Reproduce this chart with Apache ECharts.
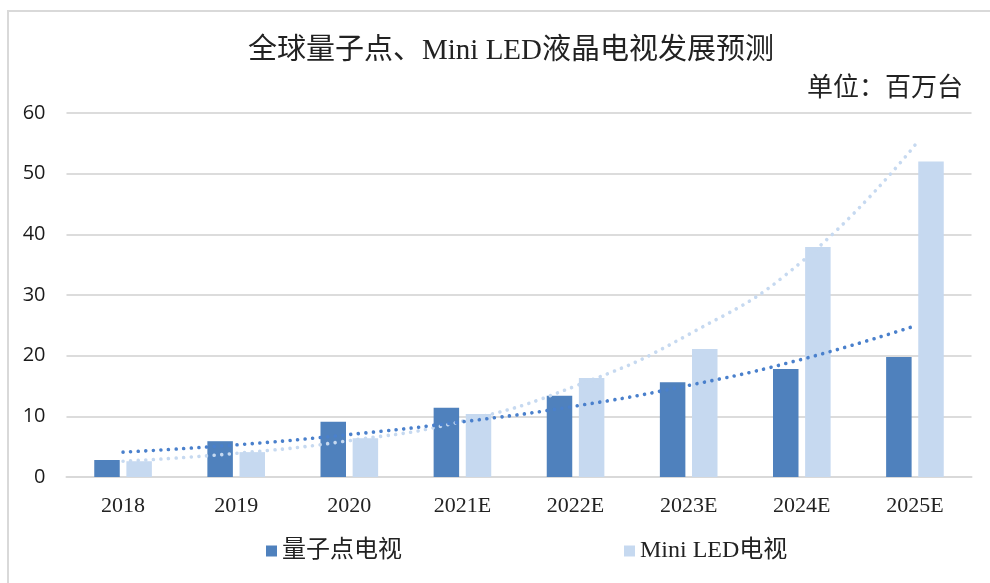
<!DOCTYPE html>
<html>
<head>
<meta charset="utf-8">
<script src="https://cdn.jsdelivr.net/npm/echarts@6/dist/echarts.min.js"></script>
<style>
  html, body { margin: 0; padding: 0; background: #fff; }
  #chart { width: 990px; height: 583px; }
</style>
</head>
<body>
<div id="chart"></div>
<script>
const years = ['2018', '2019', '2020', '2021E', '2022E', '2023E', '2024E', '2025E'];
const qdTv = [2.8, 5.9, 9.1, 11.4, 13.4, 15.6, 17.8, 19.8];
const miniLedTv = [2.6, 4.1, 6.4, 10.4, 16.3, 21.1, 37.9, 52.0];
// trend lines
const qdTrend = [4.1, 5.3, 7.0, 9.1, 11.7, 15.1, 19.4, 24.9];
const miniTrend = [2.6, 3.9, 6.0, 9.2, 15.0, 23.5, 35.5, 54.7];
const yTicks = [0, 10, 20, 30, 40, 50, 60];

const serif = "'Liberation Serif', 'Noto Sans CJK SC', serif";
const dark = '#4f81bd';
const light = '#c6d9f0';

const chart = echarts.init(document.getElementById('chart'));

const dotted = (color) => ({
  color: color,
  width: 3.6,
  type: [0.01, 7.6],
  cap: 'round'
});

chart.setOption({
  backgroundColor: '#fff',
  animation: false,
  graphic: [{
    type: 'rect',
    shape: { x: 8, y: 11, width: 1000, height: 600 },
    style: { fill: 'none', stroke: '#d9d9d9', lineWidth: 2 }
  }],
  title: [{
    text: '全球量子点、Mini LED液晶电视发展预测',
    left: 243,
    top: 32,
    textStyle: { fontFamily: serif, fontSize: 29, fontWeight: 'normal', color: '#222' }
  }, {
    text: '单位：百万台',
    right: 22,
    top: 71,
    textStyle: { fontFamily: serif, fontSize: 26, fontWeight: 'normal', color: '#222' }
  }],
  legend: {
    data: ['量子点电视', 'Mini LED电视'],
    left: 261,
    top: 534,
    icon: 'rect',
    itemWidth: 11,
    itemHeight: 11,
    itemGap: 222,
    textStyle: { fontFamily: serif, fontSize: 24, color: '#222' }
  },
  grid: { left: 66.5, right: 18.5, top: 113, bottom: 106 },
  xAxis: {
    type: 'category',
    data: years,
    axisLine: { lineStyle: { color: '#d9d9d9', width: 2 } },
    axisTick: { show: false },
    axisLabel: { fontFamily: serif, fontSize: 22, color: '#222', margin: 18 }
  },
  yAxis: {
    type: 'value',
    min: yTicks[0],
    max: yTicks[yTicks.length - 1],
    interval: 10,
    axisLine: { show: false },
    axisTick: { show: false },
    splitLine: { lineStyle: { color: '#dcdcdc', width: 2 } },
    axisLabel: { fontFamily: "'Open Sans', sans-serif", fontSize: 20, color: '#1a1a1a', margin: 21 }
  },
  series: [{
    name: '量子点电视',
    type: 'bar',
    data: qdTv,
    barWidth: 25.5,
    barGap: '26%',
    itemStyle: { color: dark }
  }, {
    name: 'Mini LED电视',
    type: 'bar',
    data: miniLedTv,
    barWidth: 25.5,
    itemStyle: { color: light }
  }, {
    name: 'Mini LED趋势',
    type: 'line',
    data: miniTrend,
    smooth: true,
    symbol: 'none',
    z: 5,
    lineStyle: dotted(light)
  }, {
    name: '量子点趋势',
    type: 'line',
    data: qdTrend,
    smooth: true,
    symbol: 'none',
    z: 6,
    lineStyle: dotted('#4a80cc')
  }]
});
</script>
</body>
</html>
